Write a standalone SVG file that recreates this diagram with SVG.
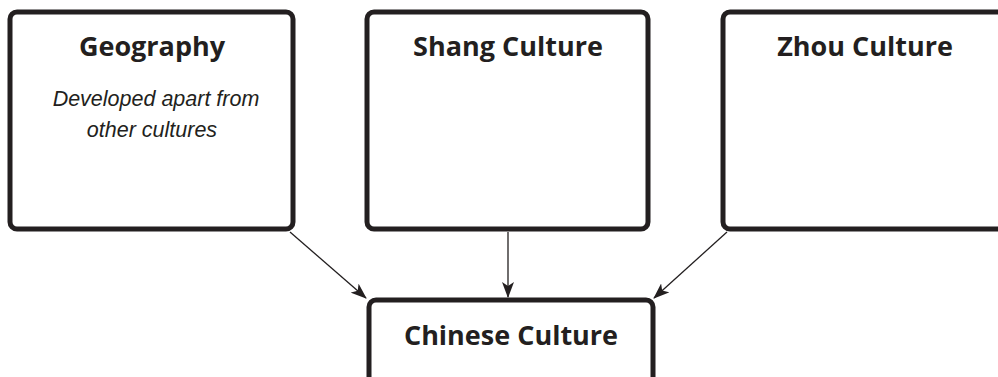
<svg xmlns="http://www.w3.org/2000/svg" width="998" height="377" viewBox="0 0 998 377">
<defs>
<style>
.box{fill:#fff;stroke:#231f20;stroke-width:5}
.t{font-family:"Open Sans","Liberation Sans",sans-serif;font-weight:bold;font-size:27px;fill:#231f20;text-anchor:middle}
.h{font-family:"Liberation Sans",sans-serif;font-style:italic;font-size:21.5px;fill:#231f20;text-anchor:middle}
.c{stroke:#231f20;stroke-width:1.3;fill:none}
</style>
<marker id="ah" viewBox="0 0 16 12" refX="15" refY="6" markerWidth="16" markerHeight="12" markerUnits="userSpaceOnUse" orient="auto">
<path d="M0,0 L16,6 L0,12 L4,6 Z" fill="#231f20"/>
</marker>
</defs>
<g id="connectors">
<line class="c" x1="290" y1="232" x2="366" y2="298" marker-end="url(#ah)"/>
<line class="c" x1="508" y1="232" x2="508" y2="297" marker-end="url(#ah)"/>
<line class="c" x1="727" y1="232" x2="654" y2="298" marker-end="url(#ah)"/>
</g>
<g id="geography">
<rect class="box" x="10" y="12" width="283" height="217" rx="7"/>
<text class="t" x="152" y="56">Geography</text>
<text class="h" x="156" y="106">Developed apart from</text>
<text class="h" x="152" y="137">other cultures</text>
</g>
<g id="shang">
<rect class="box" x="367" y="12" width="281" height="217" rx="7"/>
<text class="t" x="508" y="56">Shang Culture</text>
</g>
<g id="zhou">
<rect class="box" x="723" y="12" width="290" height="217" rx="7"/>
<text class="t" x="865" y="56">Zhou Culture</text>
</g>
<g id="chinese">
<rect class="box" x="369" y="300" width="284" height="100" rx="7"/>
<text class="t" x="511" y="345">Chinese Culture</text>
</g>
</svg>
